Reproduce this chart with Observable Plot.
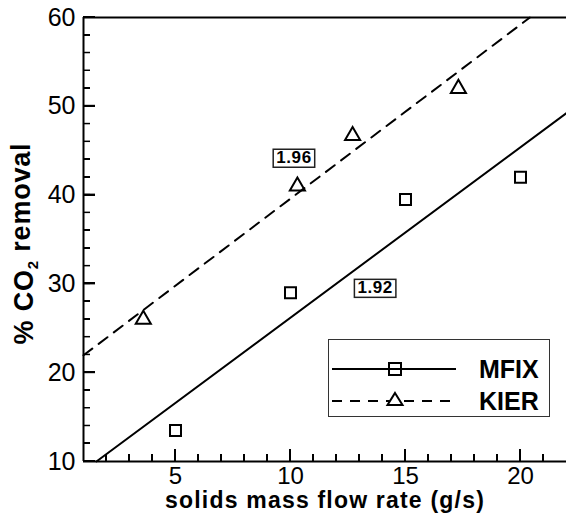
<!DOCTYPE html>
<html>
<head>
<meta charset="utf-8">
<script src="https://cdn.jsdelivr.net/npm/d3@7"></script>
<script src="https://cdn.jsdelivr.net/npm/@observablehq/plot@0.6"></script>
<style>
  html, body { margin: 0; padding: 0; background: #fff; }
  #wrap { position: relative; width: 566px; height: 513px; font-family: "Liberation Sans", Arial, sans-serif; }
  #legend { position: absolute; left: 328px; top: 339px; width: 222px; height: 78px; border: 1.5px solid #333; background: #fff; box-sizing: border-box; }
  .tk { position: absolute; background: #000; }
</style>
</head>
<body>
<div id="wrap"></div>
<script>
// ---- data ----
const seriesNames = ["MFIX", "KIER"];
const mfixX = [5, 10, 15, 20];
const mfixY = [13.5, 29, 39.5, 42];
const kierX = [3.6, 10.3, 12.7, 17.3];
const kierY = [26, 41, 46.7, 52];
// linear fits (slope labelled on chart)
const fitSlopes = [1.92, 1.96];
const fitIntercepts = [7.0, 20.0];
const fitLabels = ["1.92", "1.96"];
const fitLabelX = [13.68, 10.15];
const fitLabelY = [29.55, 44.2];
// axes
const xDomain = [1, 22];
const yDomain = [10, 60];
const xMajor = [5, 10, 15, 20];
const xMinor = d3.range(2, 22, 1);
const yMajor = [10, 20, 30, 40, 50, 60];
const yMinor = d3.range(12, 60, 2);

const mfixPts = mfixX.map((x, i) => ({x, y: mfixY[i]}));
const kierPts = kierX.map((x, i) => ({x, y: kierY[i]}));
const fitLine = i => {
  const a = fitIntercepts[i], b = fitSlopes[i];
  const x0 = Math.max(xDomain[0], (yDomain[0] - a) / b);
  const x1 = Math.min(xDomain[1], (yDomain[1] - a) / b);
  return [x0, x1].map(x => ({x, y: a + b * x}));
};
const fitText = seriesNames.map((s, i) => ({x: fitLabelX[i], y: fitLabelY[i], t: fitLabels[i]}));

const font = "'Liberation Sans', Arial, sans-serif";
const W = 566, H = 513, mL = 83, mR = 0, mT = 17, mB = 52;

const chart = Plot.plot({
  width: W, height: H,
  marginLeft: mL, marginRight: mR, marginTop: mT, marginBottom: mB,
  x: {domain: xDomain},
  y: {domain: yDomain},
  style: {fontFamily: font, color: "#000", background: "transparent"},
  marks: [
    Plot.line(fitLine(0), {x: "x", y: "y", stroke: "#000", strokeWidth: 2}),
    Plot.line(fitLine(1), {x: "x", y: "y", stroke: "#000", strokeWidth: 2, strokeDasharray: "11,8"}),
    Plot.dot(mfixPts, {x: "x", y: "y", symbol: "square", r: 6.2, stroke: "#000", strokeWidth: 2, fill: "none"}),
    Plot.dot(kierPts, {x: "x", y: "y", symbol: "triangle", r: 5.6, stroke: "#000", strokeWidth: 2, fill: "none"}),
    Plot.text(fitText, {x: "x", y: "y", text: "t", fontSize: 17, fontWeight: "bold", fill: "#000"}),
    Plot.text(["solids mass flow rate (g/s)"], {frameAnchor: "bottom", dy: 39, fontSize: 23, fontWeight: "bold", lineAnchor: "middle", textAnchor: "middle"}),
    Plot.text(["% CO2 removal"], {frameAnchor: "left", dx: -59, dy: 4, rotate: -90, fontSize: 27, fontWeight: "bold", lineAnchor: "middle", textAnchor: "middle"}),
    Plot.axisY(yMajor, {tickSize: 0, tickPadding: 8, fontSize: 25, label: null}),
    Plot.axisX(xMajor, {tickSize: 0, tickPadding: 5, fontSize: 24, label: null}),
    Plot.ruleX([xDomain[0]], {strokeWidth: 2}),
    Plot.ruleY(yDomain, {strokeWidth: 2})
  ]
});

const wrap = document.getElementById("wrap");
wrap.appendChild(chart);

// inward ticks placed with the chart's own scales
const sx = chart.scale("x"), sy = chart.scale("y");
const x0px = sx.apply(xDomain[0]), y0px = sy.apply(yDomain[0]);
const gT = d3.select(chart).append("g").attr("stroke", "#000");
function tick(horiz, v, len, w) {
  if (horiz) {
    const y = sy.apply(v);
    gT.append("line").attr("x1", x0px).attr("x2", x0px + len).attr("y1", y).attr("y2", y).attr("stroke-width", w);
    const d = document.createElement("div");
    d.className = "tk";
    Object.assign(d.style, {left: x0px + "px", top: (y - w / 2) + "px", width: len + "px", height: w + "px"});
    wrap.appendChild(d);
  } else {
    const x = sx.apply(v);
    gT.append("line").attr("x1", x).attr("x2", x).attr("y1", y0px).attr("y2", y0px - len).attr("stroke-width", w);
    const d = document.createElement("div");
    d.className = "tk";
    Object.assign(d.style, {left: (x - w / 2) + "px", top: (y0px - len) + "px", width: w + "px", height: len + "px"});
    wrap.appendChild(d);
  }
}
yMinor.forEach(v => tick(true, v, 7, 1.5));
xMinor.forEach(v => tick(false, v, 7, 1.5));
yMajor.forEach(v => tick(true, v, 12, 2));
xMajor.forEach(v => tick(false, v, 12, 2));

d3.select(chart).selectAll("text").each(function() {
  const t = this.textContent;
  const sel = d3.select(this);
  if (t === "% CO2 removal") {
    sel.text(null).attr("letter-spacing", "0.8px");
    sel.append("tspan").text("% CO");
    sel.append("tspan").text("2").attr("font-size", 15).attr("dy", "0.3em");
    sel.append("tspan").text(" removal").attr("dy", "-0.3em");
  } else if (t === "solids mass flow rate (g/s)") {
    sel.attr("letter-spacing", "1.2px");
  } else if (fitLabels.includes(t)) {
    sel.attr("letter-spacing", "0.6px");
  }
});
d3.select(chart).selectAll("text").each(function() {
  const t = this.textContent;
  if (fitLabels.includes(t)) {
    const b = this.getBBox();
    const tr = this.getAttribute("transform");
    const g = this.parentNode;
    const r = d3.select(g).insert("rect", () => this)
      .attr("x", b.x - 3).attr("y", b.y + 1)
      .attr("width", b.width + 6).attr("height", b.height - 1)
      .attr("fill", "#fff").attr("stroke", "#222").attr("stroke-width", 1.5);
    if (tr) r.attr("transform", tr);
  }
});

// legend
const legend = document.createElement("div");
legend.id = "legend";
legend.innerHTML = `
<svg width="222" height="78" style="position:absolute;left:0;top:0">
  <line x1="3" x2="127" y1="29" y2="29" stroke="#000" stroke-width="2"/>
  <rect x="60" y="23" width="12" height="12" fill="none" stroke="#000" stroke-width="2"/>
  <line x1="3" x2="127" y1="61" y2="61" stroke="#000" stroke-width="2" stroke-dasharray="10,8"/>
  <path d="M66,53 L73.5,65 L58.5,65 Z" fill="#fff" stroke="#000" stroke-width="2"/>
  <text x="150" y="38" font-size="25" font-weight="bold" font-family="${font}">${seriesNames[0]}</text>
  <text x="150" y="70" font-size="25" font-weight="bold" font-family="${font}">${seriesNames[1]}</text>
</svg>`;
wrap.appendChild(legend);
</script>
</body>
</html>
